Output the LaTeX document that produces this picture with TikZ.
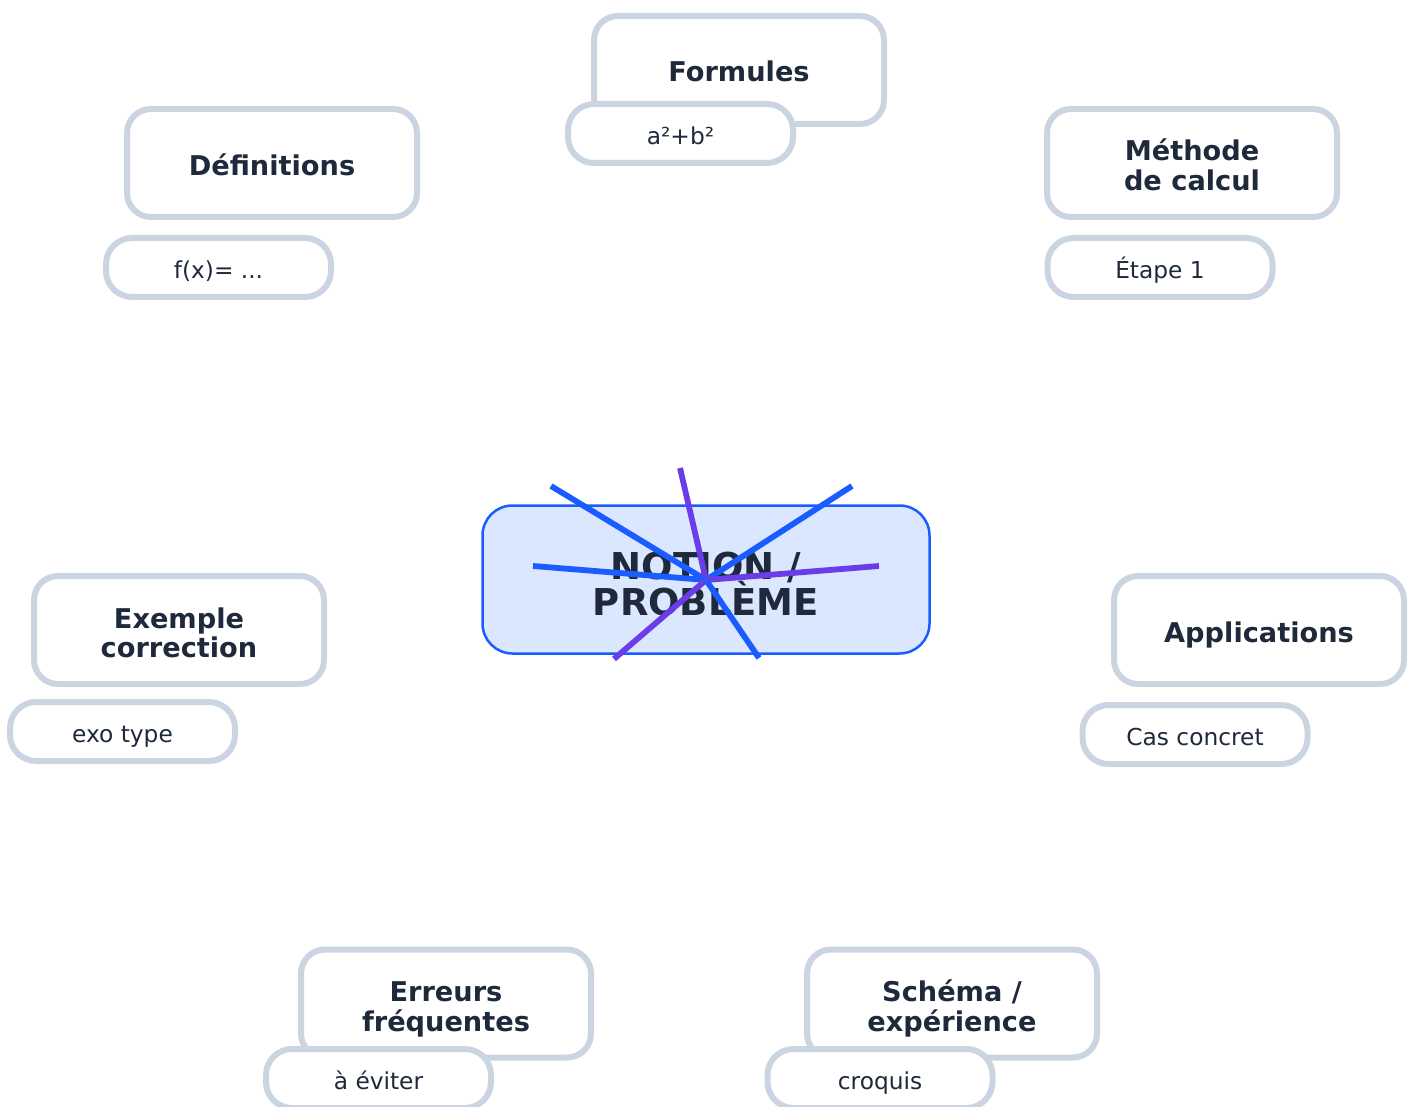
\documentclass[tikz,border=0pt]{standalone}
\usepackage{fontspec}
\setmainfont{DejaVu Sans}
\definecolor{edge}{HTML}{CBD5E1}
\definecolor{ink}{HTML}{1E293B}
\definecolor{cfill}{HTML}{DBE7FE}
\definecolor{lblue}{HTML}{1A5CFF}
\definecolor{lviolet}{HTML}{6A3DE8}
\tikzset{
  mainbox/.style={draw=edge, line width=6pt, fill=white, rounded corners=24pt,
    minimum width=290pt, minimum height=108pt, inner sep=0pt},
  subbox/.style={draw=edge, line width=6pt, fill=white, rounded corners=26pt,
    minimum width=225pt, minimum height=59pt, inner sep=0pt},
  centerbox/.style={draw=lblue, line width=2.5pt, fill=cfill, rounded corners=30pt,
    minimum width=447pt, minimum height=148pt, inner sep=0pt},
  maintext/.style={anchor=base, inner sep=0pt, text=ink, font=\fontsize{27.2}{30}\selectfont\bfseries},
  subtext/.style={anchor=base, inner sep=0pt, text=ink, font=\fontsize{23.3}{27}\selectfont},
  centertext/.style={anchor=base, inner sep=0pt, text=ink, font=\fontsize{37}{40}\selectfont\bfseries},
  spokeb/.style={draw=lblue, line width=5.8pt},
  spokev/.style={draw=lviolet, line width=5.8pt}
}
\begin{document}
\begin{tikzpicture}[x=1pt,y=-1pt]
\useasboundingbox (0,0) rectangle (1414,1107);
\clip (0,0) rectangle (1414,1107);
% main boxes
\node[mainbox] (formules) at (739,70) {};
\node[mainbox] (defs) at (272,163) {};
\node[mainbox] (methode) at (1192,163) {};
\node[mainbox] (exemple) at (179,630) {};
\node[mainbox] (applis) at (1259,630) {};
\node[mainbox] (erreurs) at (446,1003.5) {};
\node[mainbox] (schema) at (952,1003.5) {};
\node[maintext] (formules-t) at (739,81.9) {Formules};
\node[maintext] (defs-t) at (272,175.5) {Définitions};
\node[maintext] (methode-t1) at (1192,161) {Méthode};
\node[maintext] (methode-t2) at (1192,190.7) {de calcul};
\node[maintext] (exemple-t1) at (179,628.3) {Exemple};
\node[maintext] (exemple-t2) at (179,657.9) {correction};
\node[maintext] (applis-t) at (1259,642.2) {Applications};
\node[maintext] (erreurs-t1) at (446,1001.8) {Erreurs};
\node[maintext] (erreurs-t2) at (446,1031.4) {fréquentes};
\node[maintext] (schema-t1) at (952,1001.8) {Schéma /};
\node[maintext] (schema-t2) at (952,1031.4) {expérience};
% sub boxes
\node[subbox] (formulessub) at (680.5,133.5) {};
\node[subtext] (formulessub-t) at (680.5,144.3) {a²+b²};
\node[subbox] (defssub) at (218.5,267.5) {};
\node[subtext] (defssub-t) at (218.5,278.3) {f(x)= ...};
\node[subbox] (methodesub) at (1160,267.5) {};
\node[subtext] (methodesub-t) at (1160,278.3) {Étape 1};
\node[subbox] (exemplesub) at (122.5,731.5) {};
\node[subtext] (exemplesub-t) at (122.5,742.3) {exo type};
\node[subbox] (applissub) at (1195,734.5) {};
\node[subtext] (applissub-t) at (1195,745.3) {Cas concret};
\node[subbox] (erreurssub) at (378.5,1078.5) {};
\node[subtext] (erreurssub-t) at (378.5,1089.3) {à éviter};
\node[subbox] (schemasub) at (880,1078.5) {};
\node[subtext] (schemasub-t) at (880,1089.3) {croquis};
% center
\node[centerbox] (center) at (706,579.5) {};
\node[centertext] (center-t1) at (706,579.3) {NOTION /};
\node[centertext] (center-t2) at (706,615) {PROBLÈME};
\coordinate (hub) at (706,580);
\coordinate (e1) at (551,486);
\coordinate (e2) at (680,468);
\coordinate (e3) at (852,486);
\coordinate (e4) at (533,566);
\coordinate (e5) at (879,566);
\coordinate (e6) at (614,659);
\coordinate (e7) at (759,658);
\draw[spokeb] (hub) -- (e1);
\draw[spokev] (hub) -- (e2);
\draw[spokeb] (hub) -- (e3);
\draw[spokeb] (hub) -- (e4);
\draw[spokev] (hub) -- (e5);
\draw[spokev] (hub) -- (e6);
\draw[spokeb] (hub) -- (e7);
\end{tikzpicture}
\end{document}
